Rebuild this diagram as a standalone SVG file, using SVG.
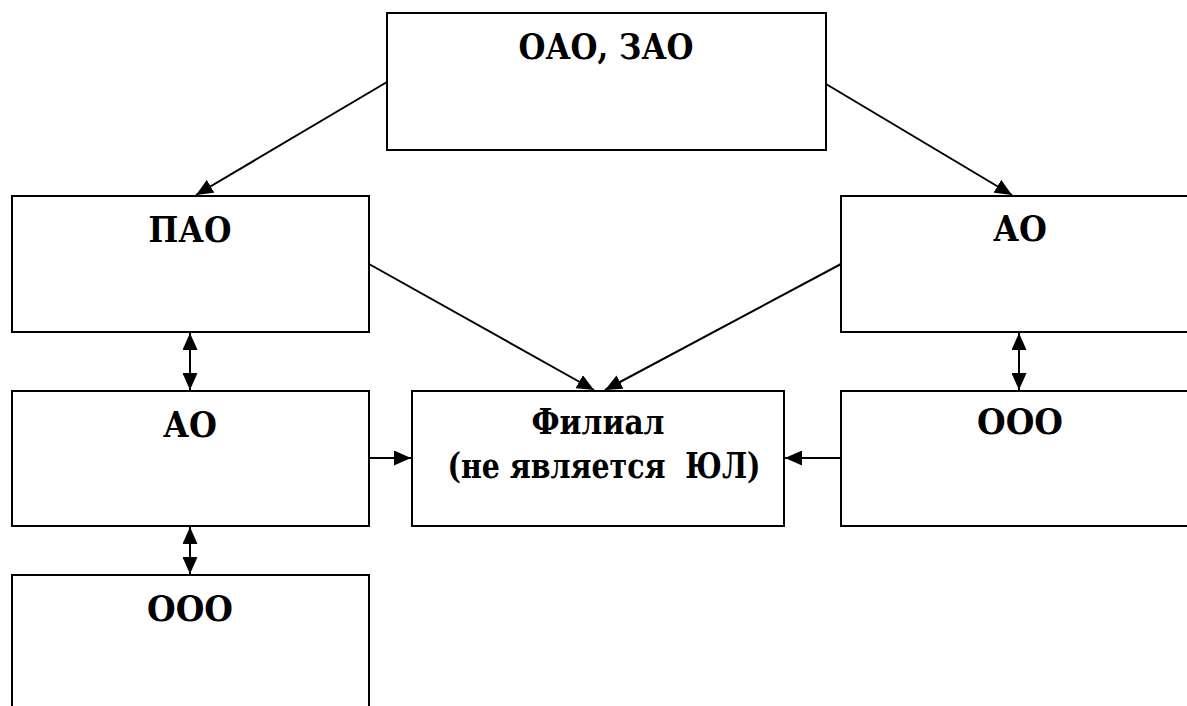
<svg xmlns="http://www.w3.org/2000/svg" width="1187" height="706" viewBox="0 0 1187 706">
<style>
.box{fill:#fff;stroke:#000;stroke-width:2}
.t{font-family:'DejaVu Serif','Liberation Serif',serif;font-weight:700;font-size:36px;fill:#000;text-anchor:middle}
.c{stroke:#000;stroke-width:2;fill:none;marker-end:url(#ah)}
.d{stroke:#000;stroke-width:2;fill:none;marker-end:url(#ah);marker-start:url(#ah)}
</style>
<defs>
<marker id="ah" markerUnits="userSpaceOnUse" markerWidth="17" markerHeight="15" refX="17" refY="7.5" orient="auto-start-reverse" viewBox="0 0 17 15">
<path d="M0,0 L17,7.5 L0,15 z" fill="#000"/>
</marker>
</defs>
<rect width="1187" height="706" fill="#fff"/>
<g id="n-top"><rect class="box" x="387" y="13" width="439" height="137"/><text class="t" x="606" y="59" textLength="175" lengthAdjust="spacingAndGlyphs">ОАО, ЗАО</text></g>
<g id="n-pao"><rect class="box" x="12" y="196" width="357" height="136"/><text class="t" x="190" y="242" textLength="83" lengthAdjust="spacingAndGlyphs">ПАО</text></g>
<g id="n-ao-right"><rect class="box" x="841" y="196" width="360" height="136"/><text class="t" x="1020" y="241" textLength="54" lengthAdjust="spacingAndGlyphs">АО</text></g>
<g id="n-ao-left"><rect class="box" x="12" y="391" width="357" height="135"/><text class="t" x="190" y="437" textLength="54" lengthAdjust="spacingAndGlyphs">АО</text></g>
<g id="n-filial"><rect class="box" x="412" y="391" width="372" height="135"/><text class="t" x="598" y="434" textLength="133" lengthAdjust="spacingAndGlyphs">Филиал</text><text class="t" x="604" y="478" xml:space="preserve" textLength="313" lengthAdjust="spacingAndGlyphs">(не является  ЮЛ)</text></g>
<g id="n-ooo-right"><rect class="box" x="841" y="391" width="360" height="135"/><text class="t" x="1020" y="434" textLength="86" lengthAdjust="spacingAndGlyphs">ООО</text></g>
<g id="n-ooo-left"><path class="box" d="M12,712 L12,575 L369,575 L369,712"/><text class="t" x="190" y="621" textLength="86" lengthAdjust="spacingAndGlyphs">ООО</text></g>
<g id="connectors">
<line class="c" x1="387" y1="82" x2="196" y2="195"/>
<line class="c" x1="826" y1="84" x2="1012" y2="195"/>
<line class="c" x1="369" y1="264" x2="594" y2="390"/>
<line class="c" x1="841" y1="264" x2="605" y2="390"/>
<line class="d" x1="190" y1="333" x2="190" y2="390"/>
<line class="d" x1="190" y1="527" x2="190" y2="574"/>
<line class="d" x1="1019" y1="333" x2="1019" y2="390"/>
<line class="c" x1="369" y1="458" x2="411" y2="458"/>
<line class="c" x1="841" y1="458" x2="785" y2="458"/>
</g>
</svg>
